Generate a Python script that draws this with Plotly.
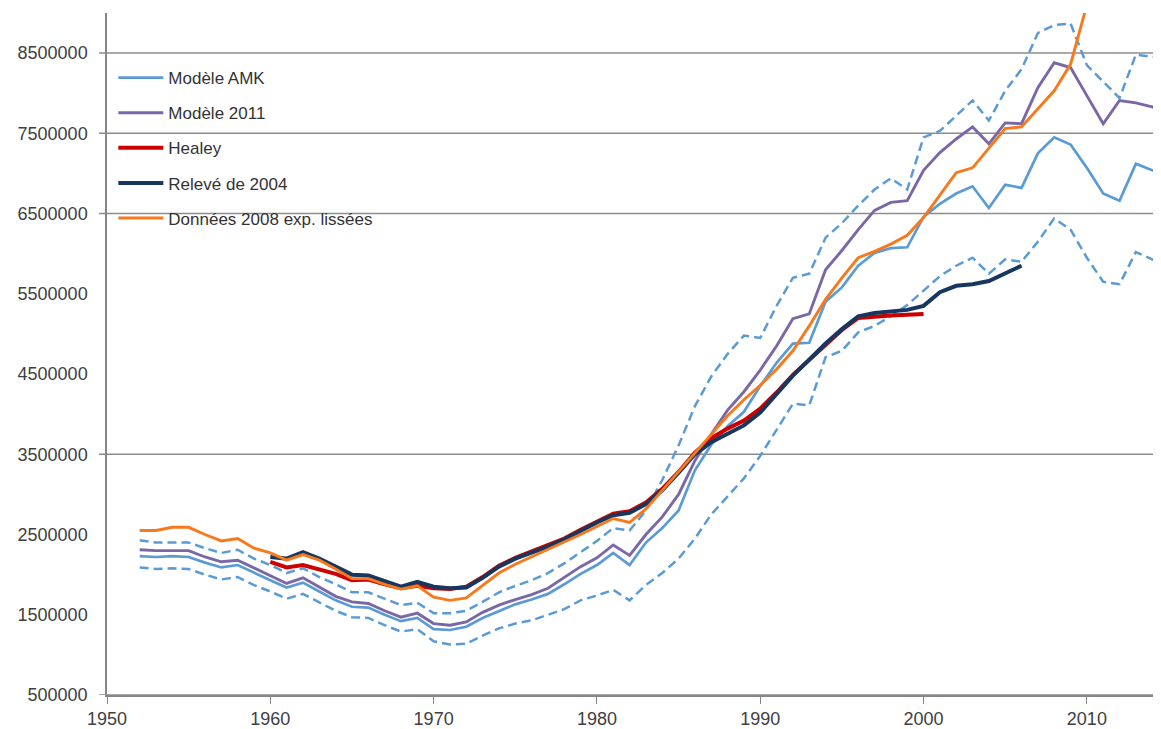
import plotly.graph_objects as go

# ---- data (values in millions) ----
years_model = list(range(1952, 2016))
amk = [2.23, 2.22, 2.23, 2.22, 2.15, 2.09, 2.12, 2.02, 1.93, 1.84,
       1.90, 1.79, 1.68, 1.60, 1.59, 1.50, 1.42, 1.46, 1.32, 1.31,
       1.35, 1.46, 1.55, 1.63, 1.69, 1.76, 1.88, 2.01, 2.12, 2.27,
       2.12, 2.40, 2.58, 2.80, 3.30, 3.62, 3.85, 4.03, 4.35, 4.64,
       4.88, 4.89, 5.40, 5.58, 5.85, 6.01, 6.07, 6.08, 6.46, 6.62,
       6.75, 6.84, 6.57, 6.86, 6.82, 7.25, 7.45, 7.36, 7.07, 6.75,
       6.66, 7.12, 7.04, 6.98]
amk_upper = [2.43, 2.40, 2.40, 2.40, 2.33, 2.27, 2.31, 2.20, 2.12, 2.02,
             2.08, 1.97, 1.88, 1.78, 1.78, 1.70, 1.62, 1.65, 1.52, 1.52,
             1.55, 1.66, 1.78, 1.86, 1.93, 2.02, 2.14, 2.28, 2.42, 2.58,
             2.55, 2.80, 3.18, 3.61, 4.10, 4.47, 4.75, 4.98, 4.95, 5.35,
             5.70, 5.75, 6.20, 6.38, 6.60, 6.80, 6.94, 6.80, 7.45, 7.53,
             7.72, 7.91, 7.66, 8.03, 8.30, 8.75, 8.85, 8.87, 8.35, 8.15,
             7.94, 8.48, 8.45, 8.43]
amk_lower = [2.09, 2.07, 2.08, 2.07, 2.00, 1.94, 1.97, 1.87, 1.79, 1.70,
             1.76, 1.65, 1.55, 1.47, 1.46, 1.37, 1.29, 1.32, 1.17, 1.13,
             1.14, 1.24, 1.33, 1.39, 1.43, 1.50, 1.57, 1.68, 1.74, 1.81,
             1.68, 1.87, 2.02, 2.20, 2.45, 2.75, 2.98, 3.20, 3.48, 3.80,
             4.13, 4.11, 4.71, 4.79, 5.02, 5.10, 5.22, 5.36, 5.54, 5.72,
             5.85, 5.95, 5.75, 5.93, 5.90, 6.15, 6.44, 6.30, 5.95, 5.65,
             5.62, 6.02, 5.93, 5.85]
modele_2011 = [2.31, 2.30, 2.30, 2.30, 2.22, 2.16, 2.18, 2.08, 1.99, 1.89,
               1.96, 1.84, 1.73, 1.66, 1.64, 1.55, 1.47, 1.52, 1.39, 1.37,
               1.41, 1.53, 1.62, 1.69, 1.75, 1.83, 1.96, 2.10, 2.21, 2.37,
               2.24, 2.50, 2.72, 3.00, 3.42, 3.75, 4.05, 4.28, 4.55, 4.85,
               5.19, 5.25, 5.80, 6.04, 6.30, 6.54, 6.64, 6.66, 7.04, 7.26,
               7.43, 7.58, 7.37, 7.63, 7.62, 8.07, 8.38, 8.32, 7.97, 7.62,
               7.91, 7.88, 7.83, 7.77]

years_healey = list(range(1960, 2001))
healey = [2.16, 2.09, 2.12, 2.07, 2.01, 1.93, 1.94, 1.88, 1.83, 1.86,
          1.83, 1.82, 1.85, 1.97, 2.11, 2.21, 2.29, 2.36, 2.45, 2.56,
          2.66, 2.76, 2.79, 2.90, 3.07, 3.28, 3.52, 3.70, 3.82, 3.92,
          4.07, 4.27, 4.49, 4.68, 4.87, 5.05, 5.20, 5.22, 5.23, 5.24, 5.25]

years_releve = list(range(1960, 2007))
releve_2004 = [2.22, 2.20, 2.28, 2.20, 2.10, 2.00, 1.99, 1.92, 1.85, 1.91,
               1.85, 1.83, 1.84, 1.96, 2.10, 2.20, 2.27, 2.35, 2.44, 2.55,
               2.65, 2.74, 2.77, 2.88, 3.05, 3.27, 3.50, 3.65, 3.75, 3.86,
               4.02, 4.25, 4.48, 4.68, 4.88, 5.06, 5.22, 5.26, 5.28, 5.30,
               5.35, 5.52, 5.60, 5.62, 5.66, 5.75, 5.85]

years_donnees = list(range(1952, 2011))
donnees_2008 = [2.55, 2.55, 2.59, 2.59, 2.50, 2.42, 2.45, 2.33, 2.27, 2.18,
                2.25, 2.18, 2.07, 1.95, 1.95, 1.88, 1.82, 1.86, 1.72, 1.68,
                1.71, 1.86, 2.02, 2.13, 2.22, 2.31, 2.40, 2.50, 2.60, 2.70,
                2.65, 2.82, 3.05, 3.28, 3.52, 3.75, 3.98, 4.18, 4.36, 4.56,
                4.79, 5.10, 5.43, 5.70, 5.95, 6.03, 6.12, 6.23, 6.45, 6.73,
                7.01, 7.07, 7.32, 7.56, 7.58, 7.80, 8.03, 8.36, 9.10]

y_tick_values = [500000, 1500000, 2500000, 3500000, 4500000,
                 5500000, 6500000, 7500000, 8500000]
x_tick_values = [1950, 1960, 1970, 1980, 1990, 2000, 2010]
grid_values = [500000, 3500000, 6500000, 7500000, 8500000]

M = 1_000_000


def scale(vals):
    return [v * M for v in vals]


C_AMK = "#5B9BD5"
C_2011 = "#7A68A6"
C_HEALEY = "#CC0000"
C_RELEVE = "#17375E"
C_DONNEES = "#F7791C"

fig = go.Figure()

fig.add_trace(go.Scatter(x=years_model, y=scale(amk_upper), mode="lines",
                         line=dict(color=C_AMK, width=2.5, dash="9px,5px"),
                         showlegend=False, hoverinfo="skip"))
fig.add_trace(go.Scatter(x=years_model, y=scale(amk_lower), mode="lines",
                         line=dict(color=C_AMK, width=2.5, dash="9px,5px"),
                         showlegend=False, hoverinfo="skip"))
fig.add_trace(go.Scatter(x=years_model, y=scale(amk), mode="lines",
                         name="Modèle AMK", legendgroup="a",
                         line=dict(color=C_AMK, width=2.7)))
fig.add_trace(go.Scatter(x=years_model, y=scale(modele_2011), mode="lines",
                         name="Modèle 2011", legendgroup="b",
                         line=dict(color=C_2011, width=2.9)))
fig.add_trace(go.Scatter(x=years_healey, y=scale(healey), mode="lines",
                         name="Healey", legendgroup="c",
                         line=dict(color=C_HEALEY, width=4)))
fig.add_trace(go.Scatter(x=years_releve, y=scale(releve_2004), mode="lines",
                         name="Relevé de 2004", legendgroup="d",
                         line=dict(color=C_RELEVE, width=4)))
fig.add_trace(go.Scatter(x=years_donnees, y=scale(donnees_2008), mode="lines",
                         name="Données 2008 exp. lissées", legendgroup="e",
                         line=dict(color=C_DONNEES, width=2.9)))

shapes = []
for g in grid_values:
    shapes.append(dict(type="line", xref="paper", yref="y",
                       x0=-0.0076, x1=1, y0=g, y1=g,
                       line=dict(color="#8C8C8C", width=1.5), layer="below"))

fig.update_layout(
    width=1153, height=721,
    margin=dict(l=99, r=0, t=5, b=34, autoexpand=False),
    plot_bgcolor="white", paper_bgcolor="white",
    font=dict(family="Liberation Sans, Arial, sans-serif", size=18, color="#404040"),
    shapes=shapes,
    showlegend=True,
    legend=dict(x=0.006, y=0.931, xanchor="left", yanchor="top",
                bgcolor="rgba(0,0,0,0)", font=dict(size=17, color="#333333"),
                tracegroupgap=10, itemwidth=45),
    xaxis=dict(range=[1950, 2014.54], tickvals=x_tick_values,
               ticks="outside", ticklen=7, tickcolor="#868686",
               showline=True, linecolor="#868686", linewidth=1.5,
               showgrid=False, zeroline=False, automargin=False,
               ticklabelstandoff=0),
    yaxis=dict(range=[500000, 9000000], tickvals=y_tick_values,
               ticktext=[str(v) for v in y_tick_values],
               ticks="", showline=True, linecolor="#868686", linewidth=1.5,
               showgrid=False, zeroline=False, automargin=False,
               ticklabelstandoff=14),
)

fig.write_html("out.html")
